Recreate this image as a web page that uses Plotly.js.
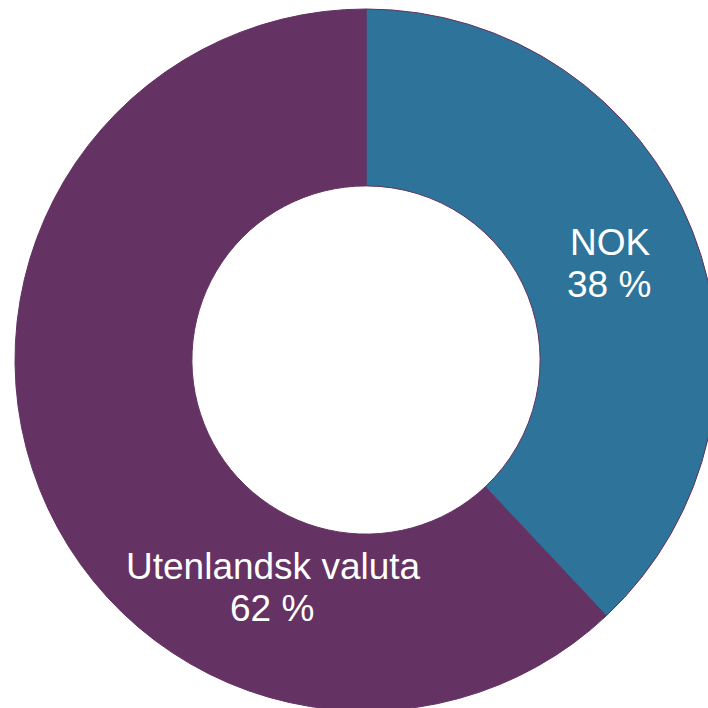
<!DOCTYPE html>
<html>
<head>
<meta charset="utf-8">
<script src="https://cdn.plot.ly/plotly-3.0.1.min.js"></script>
<style>
html, body { margin: 0; padding: 0; overflow: hidden; background: #fff; }
#chart { width: 720px; height: 720px; }
</style>
</head>
<body>
<div id="chart"></div>
<script>
const categories = ["NOK", "Utenlandsk valuta"];
const values = [38, 62];
const percentLabels = ["38 %", "62 %"];
const colors = ["#2E7399", "#643263"];

const W = 720;
const trace = {
  type: "pie",
  labels: categories,
  values: values,
  hole: 0.496,
  sort: false,
  direction: "clockwise",
  rotation: 0,
  textinfo: "none",
  hoverinfo: "label+percent",
  marker: { colors: colors, line: { color: "#643263", width: 1 } },
  domain: { x: [15 / W, 717 / W], y: [9 / W, 711 / W] },
  showlegend: false
};

// pixel centres of the two text lines of each label
const namePos = [[610, 242], [273, 566]];
const pctPos = [[609, 285], [272, 608]];
const font = { family: "Liberation Sans, Arial, sans-serif", size: 37, color: "#ffffff" };
const annotations = [];
categories.forEach((c, i) => {
  annotations.push({
    text: c, x: namePos[i][0] / W, y: 1 - namePos[i][1] / W,
    xref: "paper", yref: "paper", xanchor: "center", yanchor: "middle",
    showarrow: false, font: font
  });
  annotations.push({
    text: percentLabels[i], x: pctPos[i][0] / W, y: 1 - pctPos[i][1] / W,
    xref: "paper", yref: "paper", xanchor: "center", yanchor: "middle",
    showarrow: false, font: font
  });
});

Plotly.newPlot("chart", [trace], {
  width: W, height: W,
  margin: { l: 0, r: 0, t: 0, b: 0 },
  paper_bgcolor: "#ffffff",
  annotations: annotations
}, { displayModeBar: false, staticPlot: true });
</script>
</body>
</html>
